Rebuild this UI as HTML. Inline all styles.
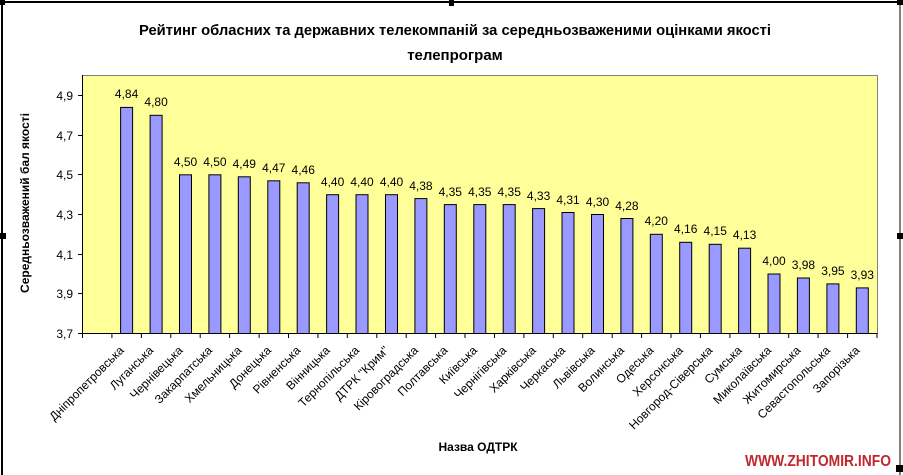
<!DOCTYPE html>
<html><head><meta charset="utf-8"><style>body{margin:0;background:#fff}svg{display:block}</style></head><body>
<svg width="903" height="475" xmlns="http://www.w3.org/2000/svg" font-family="Liberation Sans, DejaVu Sans, sans-serif">
<rect width="903" height="475" fill="#fff"/>
<line x1="2" y1="2" x2="2" y2="475" stroke="#000" stroke-width="2"/>
<line x1="2" y1="2" x2="900" y2="2" stroke="#000" stroke-width="2"/>
<line x1="900" y1="2" x2="900" y2="475" stroke="#000" stroke-width="1"/>
<rect x="0" y="0" width="5" height="5" fill="#000"/>
<rect x="449" y="0" width="5" height="6" fill="#000"/>
<rect x="0" y="233" width="6" height="6" fill="#000"/>
<rect x="897" y="233" width="6" height="6" fill="#000"/>
<rect x="897" y="0" width="6" height="5" fill="#000"/>
<rect x="896" y="465" width="7" height="7" fill="#000"/>
<text x="455" y="35" text-anchor="middle" font-weight="bold" font-size="15" textLength="632" lengthAdjust="spacingAndGlyphs">Рейтинг обласних та державних телекомпаній за середньозваженими оцінками якості</text>
<text x="455" y="60" text-anchor="middle" font-weight="bold" font-size="15">телепрограм</text>
<rect x="82.5" y="75.5" width="795" height="258" fill="#ffff99" stroke="#808080" stroke-width="1"/>
<g font-size="12" text-anchor="end" fill="#000">
<text x="73" y="100">4,9</text><text x="73" y="140">4,7</text><text x="73" y="179">4,5</text><text x="73" y="219">4,3</text><text x="73" y="259">4,1</text><text x="73" y="298">3,9</text><text x="73" y="338">3,7</text>
</g>
<g stroke="#000">
<line x1="82.5" y1="75" x2="82.5" y2="334"/>
<line x1="78" y1="95.5" x2="82" y2="95.5"/><line x1="78" y1="135.5" x2="82" y2="135.5"/><line x1="78" y1="174.5" x2="82" y2="174.5"/><line x1="78" y1="214.5" x2="82" y2="214.5"/><line x1="78" y1="254.5" x2="82" y2="254.5"/><line x1="78" y1="293.5" x2="82" y2="293.5"/>
<line x1="78" y1="333.5" x2="877" y2="333.5"/>
<path fill="none" d="M82.5 333v5M111.9 333v5M141.4 333v5M170.8 333v5M200.2 333v5M229.6 333v5M259.1 333v5M288.5 333v5M317.9 333v5M347.3 333v5M376.8 333v5M406.2 333v5M435.6 333v5M465 333v5M494.5 333v5M523.9 333v5M553.3 333v5M582.7 333v5M612.2 333v5M641.6 333v5M671 333v5M700.4 333v5M729.9 333v5M759.3 333v5M788.7 333v5M818.1 333v5M847.6 333v5M877 333v5"/>
</g>
<g fill="#9999ff" stroke="#000" stroke-width="1">
<rect x="120.6" y="107.4" width="12" height="226.1"/>
<rect x="150.1" y="115.3" width="12" height="218.2"/>
<rect x="179.5" y="174.8" width="12" height="158.7"/>
<rect x="208.9" y="174.8" width="12" height="158.7"/>
<rect x="238.3" y="176.8" width="12" height="156.7"/>
<rect x="267.8" y="180.8" width="12" height="152.7"/>
<rect x="297.2" y="182.8" width="12" height="150.7"/>
<rect x="326.6" y="194.7" width="12" height="138.8"/>
<rect x="356.0" y="194.7" width="12" height="138.8"/>
<rect x="385.5" y="194.7" width="12" height="138.8"/>
<rect x="414.9" y="198.6" width="12" height="134.9"/>
<rect x="444.3" y="204.6" width="12" height="128.9"/>
<rect x="473.8" y="204.6" width="12" height="128.9"/>
<rect x="503.2" y="204.6" width="12" height="128.9"/>
<rect x="532.6" y="208.6" width="12" height="124.9"/>
<rect x="562.0" y="212.5" width="12" height="121.0"/>
<rect x="591.5" y="214.5" width="12" height="119.0"/>
<rect x="620.9" y="218.5" width="12" height="115.0"/>
<rect x="650.3" y="234.3" width="12" height="99.2"/>
<rect x="679.7" y="242.3" width="12" height="91.2"/>
<rect x="709.2" y="244.3" width="12" height="89.2"/>
<rect x="738.6" y="248.2" width="12" height="85.3"/>
<rect x="768.0" y="274.0" width="12" height="59.5"/>
<rect x="797.4" y="278.0" width="12" height="55.5"/>
<rect x="826.9" y="283.9" width="12" height="49.6"/>
<rect x="856.3" y="287.9" width="12" height="45.6"/>
</g>
<g font-size="12" text-anchor="middle">
<text x="126.6" y="98">4,84</text>
<text x="156.1" y="106">4,80</text>
<text x="185.5" y="166">4,50</text>
<text x="214.9" y="166">4,50</text>
<text x="244.3" y="168">4,49</text>
<text x="273.8" y="172">4,47</text>
<text x="303.2" y="174">4,46</text>
<text x="332.6" y="186">4,40</text>
<text x="362.0" y="186">4,40</text>
<text x="391.5" y="186">4,40</text>
<text x="420.9" y="190">4,38</text>
<text x="450.3" y="196">4,35</text>
<text x="479.8" y="196">4,35</text>
<text x="509.2" y="196">4,35</text>
<text x="538.6" y="200">4,33</text>
<text x="568.0" y="204">4,31</text>
<text x="597.5" y="206">4,30</text>
<text x="626.9" y="210">4,28</text>
<text x="656.3" y="225">4,20</text>
<text x="685.7" y="233">4,16</text>
<text x="715.2" y="235">4,15</text>
<text x="744.6" y="239">4,13</text>
<text x="774.0" y="265">4,00</text>
<text x="803.4" y="269">3,98</text>
<text x="832.9" y="275">3,95</text>
<text x="862.3" y="279">3,93</text>
</g>
<g font-size="12" text-anchor="end">
<text transform="translate(124.6,351) rotate(-45)">Дніпропетровська</text>
<text transform="translate(154.1,351) rotate(-45)">Луганська</text>
<text transform="translate(183.5,351) rotate(-45)">Чернівецька</text>
<text transform="translate(212.9,351) rotate(-45)">Закарпатська</text>
<text transform="translate(242.3,351) rotate(-45)">Хмельницька</text>
<text transform="translate(271.8,351) rotate(-45)">Донецька</text>
<text transform="translate(301.2,351) rotate(-45)">Рівненська</text>
<text transform="translate(330.6,351) rotate(-45)">Вінницька</text>
<text transform="translate(360.0,351) rotate(-45)">Тернопільська</text>
<text transform="translate(389.5,351) rotate(-45)">ДТРК "Крим"</text>
<text transform="translate(418.9,351) rotate(-45)">Кіровоградська</text>
<text transform="translate(448.3,351) rotate(-45)">Полтавська</text>
<text transform="translate(477.8,351) rotate(-45)">Київська</text>
<text transform="translate(507.2,351) rotate(-45)">Чернігівська</text>
<text transform="translate(536.6,351) rotate(-45)">Харківська</text>
<text transform="translate(566.0,351) rotate(-45)">Черкаська</text>
<text transform="translate(595.5,351) rotate(-45)">Львівська</text>
<text transform="translate(624.9,351) rotate(-45)">Волинська</text>
<text transform="translate(654.3,351) rotate(-45)">Одеська</text>
<text transform="translate(683.7,351) rotate(-45)">Херсонська</text>
<text transform="translate(713.2,351) rotate(-45)">Новгород-Сіверська</text>
<text transform="translate(742.6,351) rotate(-45)">Сумська</text>
<text transform="translate(772.0,351) rotate(-45)">Миколаївська</text>
<text transform="translate(801.4,351) rotate(-45)">Житомирська</text>
<text transform="translate(830.9,351) rotate(-45)">Севастопольська</text>
<text transform="translate(860.3,351) rotate(-45)">Запорізька</text>
</g>
<text transform="translate(29,203) rotate(-90)" text-anchor="middle" font-size="12" font-weight="bold">Середньозважений бал якості</text>
<text x="478" y="451" text-anchor="middle" font-size="12" font-weight="bold">Назва ОДТРК</text>
<text x="818" y="466" text-anchor="middle" font-size="16" font-weight="bold" fill="#c0282d" textLength="146" lengthAdjust="spacingAndGlyphs">WWW.ZHITOMIR.INFO</text>
</svg>
</body></html>
